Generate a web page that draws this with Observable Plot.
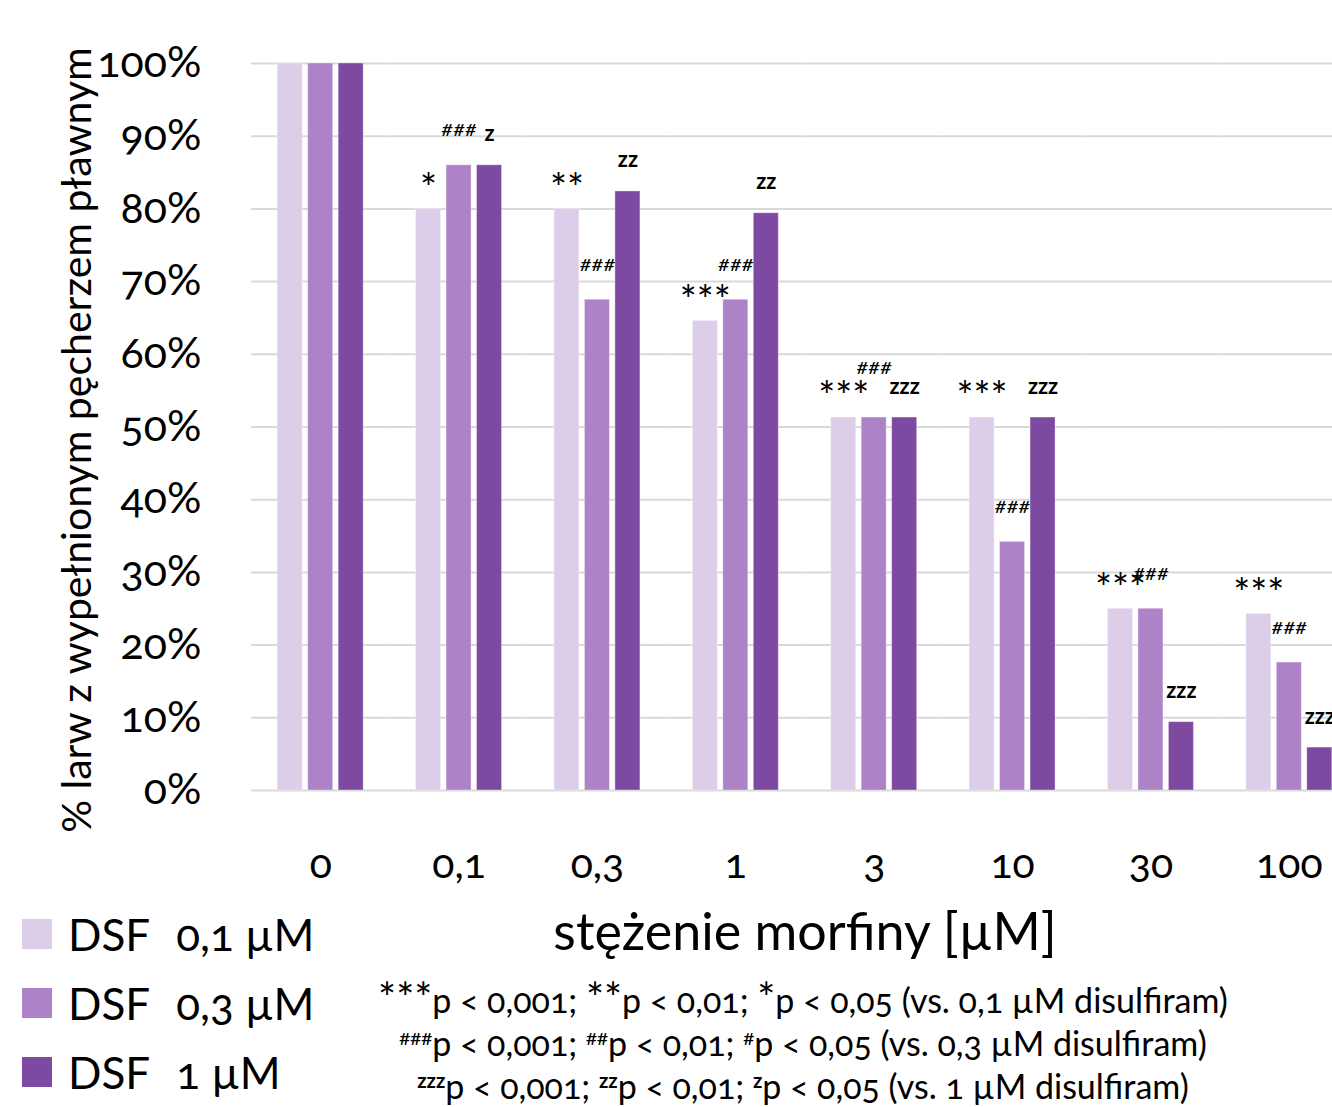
<!DOCTYPE html>
<html><head><meta charset="utf-8">
<script src="https://cdn.jsdelivr.net/npm/d3@7"></script>
<script src="https://cdn.jsdelivr.net/npm/@observablehq/plot@0.6"></script>
<style>
html,body{margin:0;padding:0;background:#fff;overflow:hidden;}
body{font-family:Lato,"Open Sans",sans-serif;font-feature-settings:"onum" 1;color:#000;}
#wrap{position:relative;width:1332px;height:1107px;overflow:hidden;}
#chart{position:absolute;left:0;top:0;}
#chart svg{max-width:none !important;}
#ytitle{position:absolute;left:75px;top:440px;transform:translate(-50%,-50%) rotate(-90deg);white-space:nowrap;font-size:41px;}
#xtitle{position:absolute;left:805px;top:930px;transform:translate(-50%,-50%);font-size:52px;white-space:nowrap;}
#legend{position:absolute;left:22px;top:899px;}
.row{display:flex;align-items:center;height:69px;font-size:44px;white-space:nowrap;}
.sw{width:30px;height:30px;margin-right:16px;flex:none;}
.gap{display:inline-block;width:26px;}
#note{position:absolute;left:803px;top:978px;transform:translateX(-50%);text-align:center;font-size:34px;line-height:43px;white-space:nowrap;}
#note .ast{font-size:1.25em;line-height:0;}
#note sup{font-size:0.6em;vertical-align:0.55em;line-height:0;}
#note sup.z{font-weight:bold;}
</style></head>
<body>
<div id="wrap">
  <div id="chart"></div>
  <div id="ytitle"></div>
  <div id="xtitle"></div>
  <div id="legend"></div>
  <div id="note"></div>
</div>
<script>
const categories = ["0", "0,1", "0,3", "1", "3", "10", "30", "100"];
const seriesNames = ["DSF 0,1 µM", "DSF 0,3 µM", "DSF 1 µM"];
const dsf01 = [100, 80, 80, 64.6, 51.3, 51.3, 25.0, 24.3];
const dsf03 = [100, 86, 67.5, 67.5, 51.3, 34.2, 25.0, 17.6];
const dsf1  = [100, 86, 82.4, 79.4, 51.3, 51.3, 9.4, 5.9];
const sig01 = ["", "*", "**", "***", "***", "***", "***", "***"];
const sig03 = ["", "###", "###", "###", "###", "###", "###", "###"];
const sig1  = ["", "z", "zz", "zz", "zzz", "zzz", "zzz", "zzz"];
const raised03 = ["3"];
const yTicks = [0, 10, 20, 30, 40, 50, 60, 70, 80, 90, 100];
const colors = ["#dccde8", "#ad82c6", "#7e49a0"];
const yTitle = "% larw z wypełnionym pęcherzem pławnym";
const xTitle = "stężenie morfiny [µM]";

const values = [dsf01, dsf03, dsf1];
const sigs = [sig01, sig03, sig1];
const rows = categories.flatMap((c, i) => seriesNames.map((s, j) => ({cat: c, s, v: values[j][i], sig: sigs[j][i], k: j})));
const withSig = k => rows.filter(d => d.k === k && d.sig !== "");

const chart = Plot.plot({
  width: 1360, height: 960,
  marginLeft: 251, marginRight: 2, marginTop: 63, marginBottom: 170,
  style: {fontFamily: "Lato, 'Open Sans', sans-serif", background: "white", color: "#000", overflow: "visible", maxWidth: "none"},
  fx: {domain: categories, padding: 0, round: false, label: null, axis: null},
  x: {domain: seriesNames, paddingInner: 0.18, paddingOuter: 0.86, round: false, axis: null},
  y: {domain: [0, 100], axis: null},
  color: {domain: seriesNames, range: colors},
  marks: [
    Plot.ruleY(yTicks, {stroke: "#d9d9d9", strokeWidth: 2}),
    Plot.barY(rows, {fx: "cat", x: "s", y: "v", fill: "s", stroke: "#ffffff", strokeOpacity: 0.35, strokeWidth: 1}),
    Plot.text(withSig(0), {fx: "cat", x: "s", y: "v", text: "sig", fontSize: 40, lineAnchor: "middle", dy: -19, fill: "#000"}),
    Plot.text(withSig(1).filter(d => !raised03.includes(d.cat)), {fx: "cat", x: "s", y: "v", text: "sig", fontSize: 22, fontStyle: "italic", lineAnchor: "middle", dy: -36, fill: "#000"}),
    Plot.text(withSig(1).filter(d => raised03.includes(d.cat)), {fx: "cat", x: "s", y: "v", text: "sig", fontSize: 22, fontStyle: "italic", lineAnchor: "middle", dy: -51, fill: "#000"}),
    Plot.text(withSig(2), {fx: "cat", x: "s", y: "v", text: "sig", fontSize: 22, fontWeight: "bold", lineAnchor: "middle", dy: -31, fill: "#000"}),
    Plot.axisY({ticks: yTicks, tickFormat: d => d + "%", tickSize: 0, tickPadding: 50, fontSize: 43, label: null}),
    Plot.axisFx({anchor: "bottom", tickSize: 0, tickPadding: 58, fontSize: 41, label: null})
  ]
});
document.getElementById("chart").appendChild(chart);
document.getElementById("ytitle").textContent = yTitle;
document.getElementById("xtitle").textContent = xTitle;

const leg = document.getElementById("legend");
seriesNames.forEach((s, j) => {
  const row = document.createElement("div");
  row.className = "row";
  const sw = document.createElement("div");
  sw.className = "sw";
  sw.style.background = colors[j];
  row.appendChild(sw);
  const idx = s.indexOf(" ");
  const t1 = document.createElement("span"); t1.textContent = s.slice(0, idx);
  const g = document.createElement("span"); g.className = "gap";
  const t2 = document.createElement("span"); t2.textContent = s.slice(idx + 1);
  row.appendChild(t1); row.appendChild(g); row.appendChild(t2);
  leg.appendChild(row);
});

const noteLines = [
  ["***", "p < 0,001; ", "**", "p < 0,01; ", "*", "p < 0,05 (vs. 0,1 µM disulfiram)", ""],
  ["###", "p < 0,001; ", "##", "p < 0,01; ", "#", "p < 0,05 (vs. 0,3 µM disulfiram)", "h"],
  ["zzz", "p < 0,001; ", "zz", "p < 0,01; ", "z", "p < 0,05 (vs. 1 µM disulfiram)", "z"]
];
const note = document.getElementById("note");
noteLines.forEach(parts => {
  const line = document.createElement("div");
  const mode = parts[6];
  for (let i = 0; i < 6; i++) {
    if (i % 2 === 0) {
      if (mode === "") {
        const sp = document.createElement("span"); sp.className = "ast"; sp.textContent = parts[i]; line.appendChild(sp);
      } else {
        const sp = document.createElement("sup"); sp.textContent = parts[i];
        if (mode === "z") sp.className = "z";
        line.appendChild(sp);
      }
    } else {
      line.appendChild(document.createTextNode(parts[i]));
    }
  }
  note.appendChild(line);
});
</script>
</body></html>
